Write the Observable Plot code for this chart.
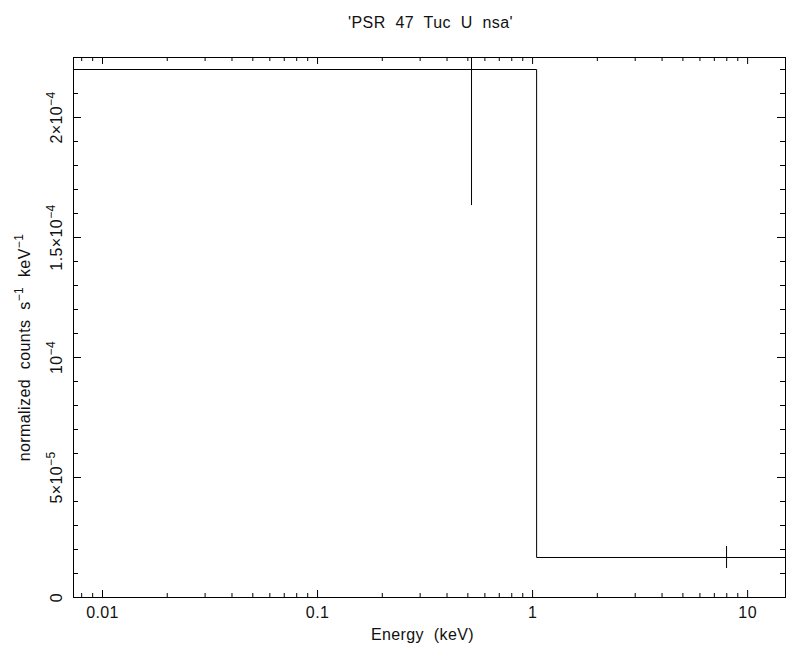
<!DOCTYPE html>
<html><head><meta charset="utf-8">
<script src="https://cdn.jsdelivr.net/npm/d3@7"></script>
<script src="https://cdn.jsdelivr.net/npm/@observablehq/plot@0.6"></script>
<style>body{margin:0;background:#fff}</style>
</head><body><div id="chart"></div>
<script>
const title = "'PSR 47 Tuc U nsa'";
const xLabel = "Energy (keV)";
const yLabel = "normalized counts s\u207B\u00B9 keV\u207B\u00B9";

// spectrum bins (keV) and values (counts s^-1 keV^-1)
const binLo = [0.005, 1.044];
const binHi = [1.044, 20];
const binCenter = [0.52, 7.98];
const binValue = [2.2e-4, 1.667e-5];
const binError = [0.567e-4, 0.46e-5];

const xMajorTicks = [0.01, 0.1, 1, 10];
const xTickLabels = ["0.01", "0.1", "1", "10"];
const xMinorTicks = [0.008, 0.009,
  0.02, 0.03, 0.04, 0.05, 0.06, 0.07, 0.08, 0.09,
  0.2, 0.3, 0.4, 0.5, 0.6, 0.7, 0.8, 0.9,
  2, 3, 4, 5, 6, 7, 8, 9];
const yMajorTicks = [0, 5e-5, 1e-4, 1.5e-4, 2e-4];
const yTickLabels = ["0", "5\u00D710\u207B\u2075", "10\u207B\u2074", "1.5\u00D710\u207B\u2074", "2\u00D710\u207B\u2074"];
const yMinorTicks = [1e-5, 2e-5, 3e-5, 4e-5, 6e-5, 7e-5, 8e-5, 9e-5,
  1.1e-4, 1.2e-4, 1.3e-4, 1.4e-4, 1.6e-4, 1.7e-4, 1.8e-4, 1.9e-4, 2.1e-4, 2.2e-4];

const W = 792, H = 660;
const mT = 57, mB = 63, mL = 73, mR = 7;
const iH = H - mT - mB, iW = W - mL - mR;

const bins = binLo.map((lo, i) => ({lo, hi: binHi[i], c: binCenter[i], v: binValue[i], e: binError[i]}));
const stepPts = bins.map(b => ({x: b.lo, y: b.v}));
stepPts.push({x: bins[bins.length - 1].hi, y: bins[bins.length - 1].v});

const font = "Liberation Sans, Arial, sans-serif";
const fs = 16;
const txt = {fontSize: fs, fill: "#111", textAnchor: "middle", lineAnchor: "middle"};

const chart = Plot.plot({
  width: W, height: H,
  marginTop: mT, marginBottom: mB, marginLeft: mL, marginRight: mR,
  style: {fontFamily: font, fontSize: fs + "px", color: "black", background: "white", wordSpacing: "5px", letterSpacing: "0.4px"},
  x: {type: "log", domain: [0.00733, 15], axis: null},
  y: {domain: [0, 2.25e-4], axis: null},
  marks: [
    Plot.frame({stroke: "black"}),
    // ticks, inward on all four sides
    Plot.tickX(xMajorTicks, {x: d => d, insetTop: iH - 7, stroke: "black"}),
    Plot.tickX(xMajorTicks, {x: d => d, insetBottom: iH - 7, stroke: "black"}),
    Plot.tickX(xMinorTicks, {x: d => d, insetTop: iH - 4, stroke: "black"}),
    Plot.tickX(xMinorTicks, {x: d => d, insetBottom: iH - 4, stroke: "black"}),
    Plot.tickY(yMajorTicks, {y: d => d, insetRight: iW - 8, stroke: "black"}),
    Plot.tickY(yMajorTicks, {y: d => d, insetLeft: iW - 8, stroke: "black"}),
    Plot.tickY(yMinorTicks, {y: d => d, insetRight: iW - 5, stroke: "black"}),
    Plot.tickY(yMinorTicks, {y: d => d, insetLeft: iW - 5, stroke: "black"}),
    // data
    Plot.line(stepPts, {x: "x", y: "y", curve: "step-after", stroke: "black", strokeWidth: 1, clip: true}),
    Plot.ruleX(bins, {x: "c", y1: d => d.v - d.e, y2: d => d.v + d.e, stroke: "black", strokeWidth: 1, clip: true}),
    // labels
    Plot.text(xMajorTicks, {...txt, x: d => d, text: (d, i) => xTickLabels[i], frameAnchor: "bottom", dy: 15}),
    Plot.text(yMajorTicks, {...txt, y: d => d, text: (d, i) => yTickLabels[i], frameAnchor: "left", dx: -17, rotate: -90}),
    Plot.text([xLabel], {...txt, frameAnchor: "bottom", dy: 37, dx: -7}),
    Plot.text([yLabel], {...txt, frameAnchor: "left", dx: -49, dy: 20, rotate: -90}),
    Plot.text([title], {...txt, frameAnchor: "top", dy: -35, dx: 1})
  ]
});

// render Unicode superscripts as larger raised tspans (still real text)
const supMap = {"\u207B": "\u2212", "\u00B9": "1", "\u2074": "4", "\u2075": "5"};
chart.querySelectorAll("text").forEach(t => {
  const s = t.textContent;
  if (![...s].some(ch => ch in supMap)) return;
  const parts = [];
  for (const ch of s) {
    const sup = ch in supMap;
    const c = sup ? supMap[ch] : ch;
    if (parts.length && parts[parts.length - 1].sup === sup) parts[parts.length - 1].s += c;
    else parts.push({sup, s: c});
  }
  while (t.firstChild) t.removeChild(t.firstChild);
  let raised = false;
  for (const p of parts) {
    const ts = document.createElementNS("http://www.w3.org/2000/svg", "tspan");
    ts.textContent = p.s;
    if (p.sup) {
      ts.setAttribute("font-size", "12px");
      ts.setAttribute("dy", "-7");
      raised = true;
    } else if (raised) {
      ts.setAttribute("dy", "7");
      raised = false;
    }
    t.appendChild(ts);
  }
});
document.getElementById("chart").appendChild(chart);
</script>
</body></html>
